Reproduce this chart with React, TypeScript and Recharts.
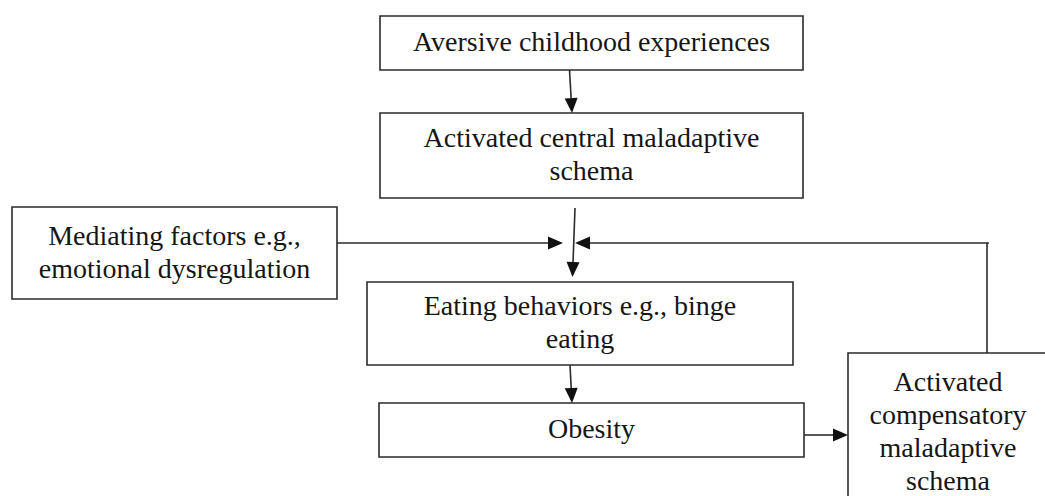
import React from "react";
import { ComposedChart, ReferenceArea, ReferenceLine, XAxis, YAxis } from "recharts";

// Diagram space matches the 1045 x 496 canvas (y grows downward).
const BOX_LINES = [
  ["Aversive childhood experiences"],
  ["Activated central maladaptive", "schema"],
  ["Mediating factors e.g.,", "emotional dysregulation"],
  ["Eating behaviors e.g., binge", "eating"],
  ["Obesity"],
  ["Activated", "compensatory", "maladaptive", "schema"],
];
const BOX_LEFT = [380, 380, 12, 367, 379, 848];
const BOX_RIGHT = [803, 803, 337, 793, 804, 1048];
const BOX_TOP = [16, 113, 207, 282, 403, 353];
const BOX_BOTTOM = [70, 198, 299, 365, 457, 512];

// Connectors: start point, end point, and whether the end has an arrowhead.
const LINK_FROM = [
  [569.5, 70],
  [575, 208],
  [337, 243],
  [989, 243],
  [987, 243],
  [570, 365],
  [804, 435],
];
const LINK_TO = [
  [572, 113],
  [572.5, 277],
  [563, 243],
  [575, 243],
  [987, 353],
  [572, 403],
  [848, 435],
];
const LINK_ARROW = [true, true, true, true, false, true, true];

const W = 1045;
const H = 496;
const INK = "#2b2b2b";
const TEXT = "#161616";
const FONT = '"Liberation Serif", Tinos, "Times New Roman", "Nimbus Roman", serif';
const FONT_SIZE = 28;
const LINE_H = 33;

function BoxLabel(props: any) {
  const { viewBox, lines } = props;
  if (!viewBox) return null;
  const cx = viewBox.x + viewBox.width / 2;
  const cy = viewBox.y + viewBox.height / 2;
  const n = lines.length;
  return (
    <text
      textAnchor="middle"
      fontFamily={FONT}
      fontSize={FONT_SIZE}
      fill={TEXT}
      style={{ fontFamily: FONT, fontSize: FONT_SIZE }}
    >
      {lines.map((l: string, i: number) => (
        <tspan key={i} x={cx} y={cy + (i - (n - 1) / 2) * LINE_H + 8}>
          {l}
        </tspan>
      ))}
    </text>
  );
}

function Connector(props: any) {
  const { x1, y1, x2, y2, head } = props;
  if ([x1, y1, x2, y2].some((v) => v == null || Number.isNaN(v))) return null;
  const dx = x2 - x1;
  const dy = y2 - y1;
  const len = Math.hypot(dx, dy) || 1;
  const ux = dx / len;
  const uy = dy / len;
  const L = head ? 15 : 0;
  const hw = 6.5;
  const bx = x2 - ux * L;
  const by = y2 - uy * L;
  return (
    <g>
      <line x1={x1} y1={y1} x2={bx} y2={by} stroke={INK} strokeWidth={1.6} />
      {head && (
        <polygon
          points={`${x2},${y2} ${bx - uy * hw},${by + ux * hw} ${bx + uy * hw},${by - ux * hw}`}
          fill="#111111"
        />
      )}
    </g>
  );
}

export default function App() {
  return (
    <div style={{ position: "absolute", left: 0, top: 0, width: W, height: H, background: "#fff" }}>
      <ComposedChart width={W} height={H} margin={{ top: 0, right: 0, bottom: 0, left: 0 }}>
        <XAxis type="number" dataKey="x" domain={[0, W]} hide allowDataOverflow />
        <YAxis type="number" dataKey="y" domain={[0, H]} reversed hide allowDataOverflow />
        {BOX_LINES.map((lines, i) => (
          <ReferenceArea
            key={`box-${i}`}
            x1={BOX_LEFT[i]}
            x2={BOX_RIGHT[i]}
            y1={BOX_TOP[i]}
            y2={BOX_BOTTOM[i]}
            fill="#ffffff"
            fillOpacity={0}
            stroke={INK}
            strokeWidth={1.6}
            strokeOpacity={1}
            ifOverflow="visible"
            label={<BoxLabel lines={lines} />}
          />
        ))}
        {LINK_FROM.map((from, i) => (
          <ReferenceLine
            key={`link-${i}`}
            segment={[
              { x: from[0], y: from[1] },
              { x: LINK_TO[i][0], y: LINK_TO[i][1] },
            ]}
            ifOverflow="visible"
            shape={(p: any) => <Connector {...p} head={LINK_ARROW[i]} />}
          />
        ))}
      </ComposedChart>
    </div>
  );
}
